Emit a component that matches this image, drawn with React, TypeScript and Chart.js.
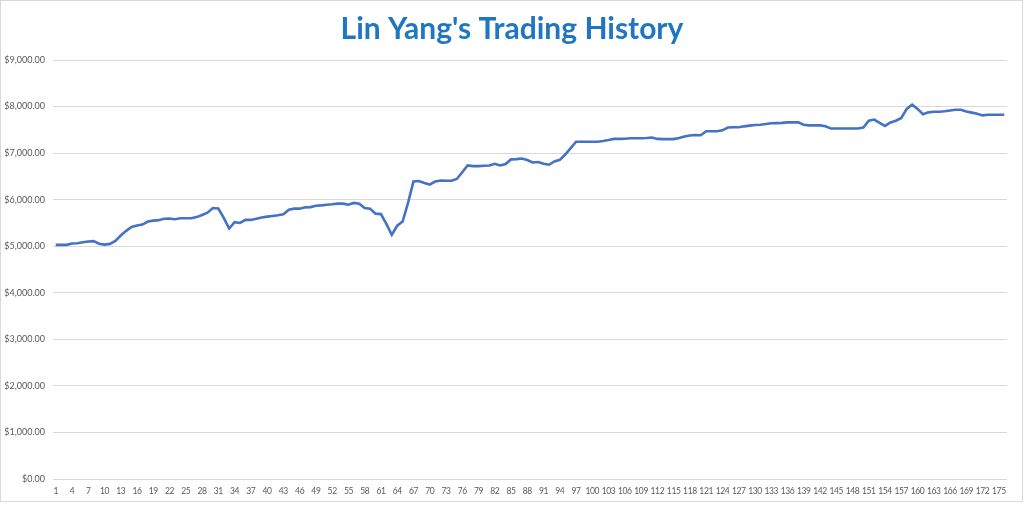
import React, { useEffect, useRef } from "react";
import { Chart, registerables } from "chart.js";

Chart.register(...registerables);

const TITLE = "Lin Yang's Trading History";

const balances: number[] = [
  5030, 5030, 5030, 5060, 5065, 5085, 5100, 5110, 5055, 5035,
  5050, 5115, 5230, 5330, 5415, 5445, 5465, 5530, 5550, 5560,
  5590, 5595, 5580, 5600, 5600, 5600, 5625, 5670, 5720, 5820,
  5810, 5607, 5380, 5515, 5500, 5565, 5565, 5590, 5615, 5635,
  5650, 5665, 5685, 5785, 5807, 5807, 5835, 5840, 5870, 5878,
  5892, 5900, 5915, 5915, 5892, 5930, 5915, 5820, 5807, 5700,
  5690, 5480, 5245, 5440, 5530, 5930, 6390, 6400, 6360, 6325,
  6390, 6410, 6405, 6405, 6445, 6590, 6735, 6720, 6720, 6730,
  6735, 6770, 6735, 6765, 6865, 6870, 6885, 6850, 6800, 6810,
  6770, 6750, 6820, 6855, 6970, 7105, 7245, 7245, 7245, 7245,
  7245, 7260, 7280, 7305, 7305, 7310, 7320, 7320, 7320, 7325,
  7335, 7305, 7300, 7300, 7300, 7325, 7355, 7380, 7390, 7385,
  7470, 7470, 7470, 7490, 7550, 7555, 7555, 7575, 7590, 7605,
  7610, 7625, 7640, 7645, 7650, 7660, 7660, 7660, 7610, 7595,
  7595, 7595, 7575, 7530, 7530, 7530, 7530, 7530, 7530, 7550,
  7695, 7720, 7650, 7585, 7660, 7695, 7755, 7950, 8040, 7950,
  7835, 7875, 7890, 7890, 7900, 7915, 7930, 7930, 7895, 7870,
  7845, 7810, 7825, 7825, 7825, 7825,
];

const tradeNumbers: string[] = balances.map((_, i) => String(i + 1));

const Y_MIN = 0;
const Y_MAX = 9000;
const Y_STEP = 1000;
const X_LABEL_EVERY = 3;

const fmtMoney = (v: number) =>
  "$" + v.toLocaleString("en-US", { minimumFractionDigits: 2, maximumFractionDigits: 2 });

export default function App() {
  const ref = useRef<HTMLCanvasElement | null>(null);

  useEffect(() => {
    if (!ref.current) return;
    const decor = {
      id: "decor",
      afterDraw(chart: any) {
        const ctx = chart.ctx;
        const xs = chart.scales.x;
        ctx.save();
        // chart-area border
        ctx.strokeStyle = "#D9D9D9";
        ctx.lineWidth = 1;
        ctx.strokeRect(0.5, 0.5, 1022, 501);
        // category labels (condensed, like Calibri)
        ctx.fillStyle = "#595959";
        ctx.font = "8.5px Lato";
        (ctx as any).letterSpacing = "-0.4px";
        ctx.textAlign = "center";
        ctx.textBaseline = "middle";
        tradeNumbers.forEach((lab, i) => {
          if (i % X_LABEL_EVERY !== 0) return;
          ctx.fillText(lab, xs.getPixelForValue(i), chart.chartArea.bottom + 12);
        });
        (ctx as any).letterSpacing = "0px";
        // title
        ctx.fillStyle = "#1F77C2";
        ctx.font = "bold 30px Lato";
        ctx.textAlign = "center";
        ctx.textBaseline = "alphabetic";
        ctx.fillText(TITLE, 512, 39);
        ctx.restore();
      },
    };
    const chart = new Chart(ref.current, {
      type: "line",
      data: {
        labels: tradeNumbers,
        datasets: [
          {
            data: balances,
            borderColor: "#4472C4",
            borderWidth: 2.6,
            pointRadius: 0,
            tension: 0,
            fill: false,
          },
        ],
      },
      options: {
        responsive: false,
        animation: false,
        layout: { padding: { top: 60, right: 17, left: 0, bottom: 0 } },
        plugins: { legend: { display: false }, tooltip: { enabled: false }, title: { display: false } },
        scales: {
          x: {
            offset: true,
            grid: { display: false, drawTicks: false },
            border: { display: false },
            afterFit: (s: any) => {
              s.height = 28;
            },
            ticks: { display: false, autoSkip: false },
          },
          y: {
            min: Y_MIN,
            max: Y_MAX,
            grid: { color: "#D9D9D9", lineWidth: 1, drawTicks: false },
            border: { display: false },
            afterFit: (s: any) => {
              s.width = 53;
            },
            ticks: {
              stepSize: Y_STEP,
              padding: 8,
              color: "#595959",
              font: { family: "Lato", size: 9 },
              callback: (v: any) => fmtMoney(Number(v)),
            },
          },
        },
      },
      plugins: [decor],
    });
    return () => chart.destroy();
  }, []);

  return (
    <div style={{ position: "fixed", left: 0, top: 0, width: 1024, height: 507, background: "#fff" }}>
      <canvas ref={ref} width={1024} height={507} style={{ display: "block", width: 1024, height: 507 }} />
    </div>
  );
}
